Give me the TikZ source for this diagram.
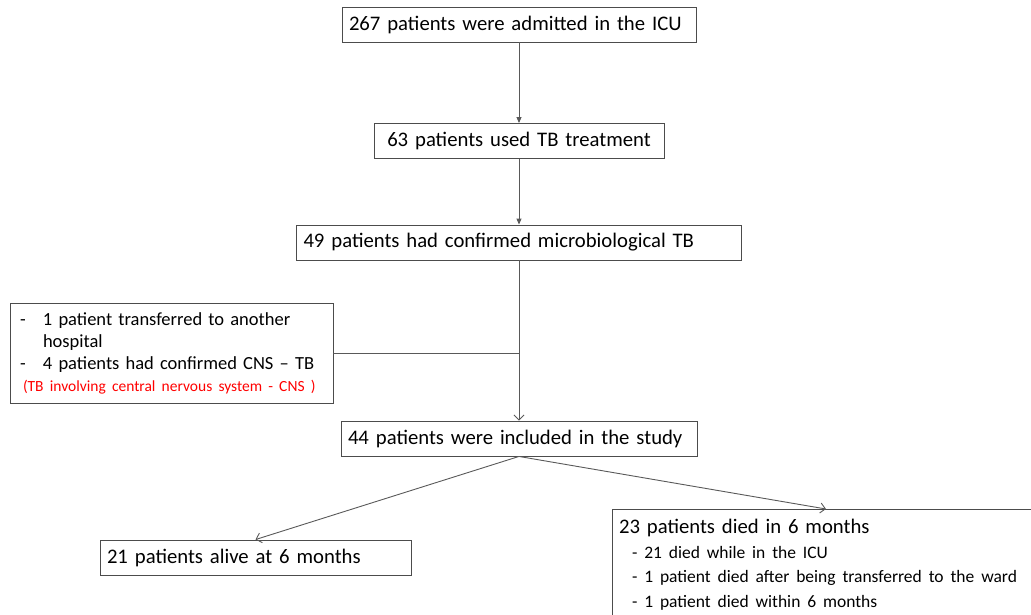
\documentclass[tikz,border=0pt]{standalone}
\usepackage{fontspec}
\setmainfont{Carlito}
\usetikzlibrary{arrows.meta, positioning}

\begin{document}
\begin{tikzpicture}[x=1pt, y=-1pt, every node/.style={font=\fontsize{20.7}{25}\selectfont}]
\tikzstyle{box} = [rectangle, draw=black!70, line width=0.9pt, fill=white, inner xsep=7pt, inner ysep=0pt, minimum height=35pt, align=left]
\tikzstyle{arrow} = [-{Triangle[length=6pt, width=5pt]}, draw=black!65, line width=0.9pt]
\tikzstyle{barb} = [-{Straight Barb[length=5pt, width=10pt]}, draw=black!65, line width=0.9pt]

\useasboundingbox (0,0) rectangle (1031,615);

% Nodes
\node[box, text width=340pt] (s1) at (519,24.5) {267 patients were admitted in the ICU};
\node[box, text width=276pt, align=center] (s2) at (519,141) {63 patients used TB treatment};
\node[box, text width=431pt] (s3) at (519,242.5) {49 patients had confirmed microbiological TB};
\node[box, text width=309pt, minimum height=100pt, font=\fontsize{18.5}{22}\selectfont] (ex) at (171.5,353)
  {\makebox[26pt][l]{\hspace*{3pt}-}1 patient transferred to another\\
   \hspace*{26pt}hospital\\
   \makebox[26pt][l]{\hspace*{3pt}-}4 patients had confirmed CNS – TB\\
   {\color{red}\fontsize{15.5}{22}\selectfont\hspace*{6pt}(TB involving central nervous system - CNS )}};
\node[box, text width=342pt] (s4) at (519,438.5) {44 patients were included in the study};
\node[box, text width=297pt] (s5) at (255.5,557.5) {21 patients alive at 6 months};
\node[box, text width=414pt, anchor=north, inner ysep=10pt] (s6) at (826,509)
  {23 patients died in 6 months\\
   {\fontsize{17.5}{24.5}\selectfont\hspace*{13pt}- 21 died while in the ICU\\
   \hspace*{13pt}- 1 patient died after being transferred to the ward\\
   \hspace*{13pt}- 1 patient died within 6 months\par}};

% Arrows
\draw[arrow] (s1) -- (s2);
\draw[arrow] (s2) -- (s3);
\draw[barb] (s3) -- (s4);
\draw[draw=black!65, line width=0.9pt] (ex.east) -- (ex.east -| s3.south);
\draw[barb] (s4.south) -- (s5.north);
\draw[barb] (s4.south) -- (s6.north);

\end{tikzpicture}
\end{document}
